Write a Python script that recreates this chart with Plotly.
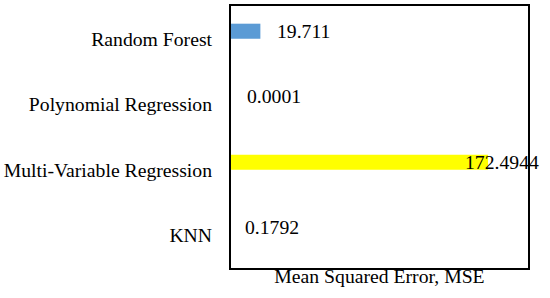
import plotly.graph_objects as go

models = ["KNN", "Multi-Variable Regression", "Polynomial Regression", "Random Forest"]
mse = [0.1792, 172.4944, 0.0001, 19.711]
mse_labels = ["0.1792", "172.4944", "0.0001", "19.711"]

bar_colors = ["#FFFFFF", "#FFFF00", "#FFFFFF", "#5B9BD5"]
label_xshift = [12, -25, 14, 15]
FONT = "Liberation Serif"
FS = 19.7

fig = go.Figure()
fig.add_trace(go.Bar(
    x=mse, y=models, orientation="h",
    marker=dict(color=bar_colors, line=dict(width=0)),
    width=0.23, offset=0,
    showlegend=False, hoverinfo="skip",
))

for m, v, t, dx in zip(models, mse, mse_labels, label_xshift):
    fig.add_annotation(x=v, y=m, text=t, showarrow=False, xanchor="left",
                       yanchor="middle", xshift=dx, yshift=8,
                       font=dict(family=FONT, size=FS, color="#000"))

fig.update_layout(
    width=550, height=298,
    margin=dict(l=231, r=22, t=6, b=30),
    paper_bgcolor="white", plot_bgcolor="white",
    font=dict(family=FONT, size=FS, color="#000"),
    xaxis=dict(range=[0, 199.3], showgrid=False, zeroline=False,
               showticklabels=False, ticks="", automargin=False,
               showline=True, mirror=True, linecolor="#000", linewidth=2,
               title=dict(text="Mean Squared Error, MSE", standoff=0,
                          font=dict(family=FONT, size=FS))),
    yaxis=dict(categoryorder="array", categoryarray=models,
               showgrid=False, zeroline=False, ticks="", automargin=False,
               showline=True, mirror=True, linecolor="#000", linewidth=2,
               ticklabelstandoff=13,
               tickfont=dict(family=FONT, size=FS)),
)

fig.write_html("out.html", config={"displayModeBar": False},
               post_script="document.body.style.margin='0';document.body.style.overflow='hidden';")
